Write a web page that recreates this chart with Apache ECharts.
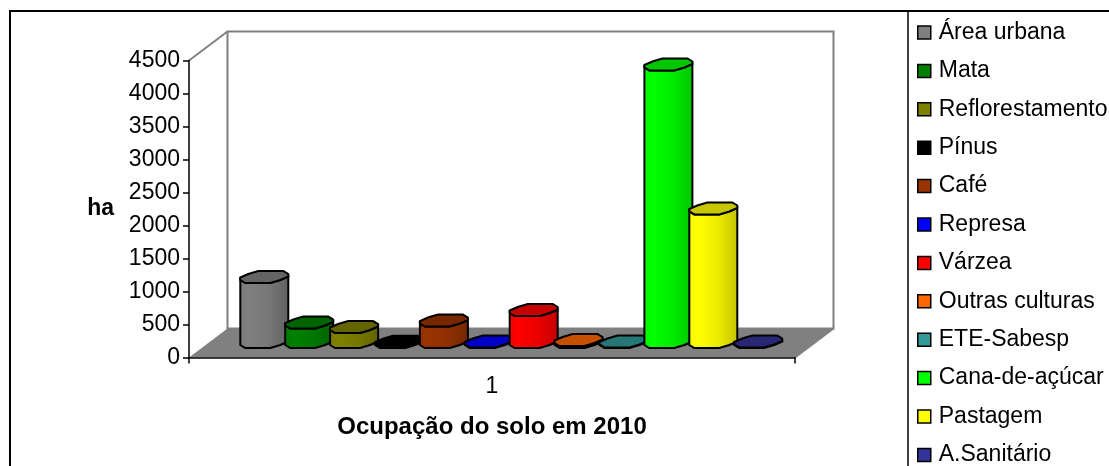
<!DOCTYPE html>
<html>
<head>
<meta charset="utf-8">
<style>html,body{margin:0;padding:0;background:#fff}#chart{width:1109px;height:466px}</style>
<script src="https://cdn.jsdelivr.net/npm/echarts@6/dist/echarts.min.js"></script>
</head>
<body>
<div id="chart"></div>
<script>
const categories = ['1'];
const names = ['Área urbana', 'Mata', 'Reflorestamento', 'Pínus', 'Café', 'Represa', 'Várzea', 'Outras culturas', 'ETE-Sabesp', 'Cana-de-açúcar', 'Pastagem', 'A.Sanitário'];
const values = [985, 295, 227, 5, 325, 8, 485, 30, 8, 4205, 2023, 8];
const colors = ['#808080', '#008000', '#808000', '#000000', '#993300', '#0000ff', '#ff0000', '#ff6600', '#339999', '#00ff00', '#ffff00', '#333399'];
const yTicks = [0, 4500, 500];

const font = '"Liberation Sans", Arial, sans-serif';
// shift of the 3D box back wall against the front plane
const depthX = 38.5, depthY = 29;
const barStep = 44.9;
// sheared section of the column, relative to its centre
const section = [[-6, -6], [19, -6], [24, -3], [24, -0.5], [16, 3], [6, 6], [-19, 6], [-24, 3], [-24, 0.5], [-16, -3]];
const frontEdge = [8, 7, 6, 5, 4, 3];

function shade(hex, k) {
    const n = parseInt(hex.slice(1), 16);
    const c = [n >> 16, (n >> 8) & 255, n & 255].map(v => Math.round(v * k));
    return 'rgb(' + c.join(',') + ')';
}

function renderBox(params, api) {
    const o = api.coord([0, yTicks[0]]);
    const t = api.coord([0, yTicks[1]]);
    const x0 = params.coordSys.x, x1 = x0 + params.coordSys.width;
    const gray = '#808080';
    const line = (a, b, c, d, col) => ({
        type: 'line', shape: { x1: a, y1: b, x2: c, y2: d },
        style: { stroke: col || gray, lineWidth: 2 }
    });
    return {
        type: 'group',
        children: [
            { type: 'polygon', shape: { points: [[x0 + depthX, t[1] - depthY], [x1 + depthX, t[1] - depthY], [x1 + depthX, o[1] - depthY], [x0 + depthX, o[1] - depthY]] }, style: { fill: '#fff', stroke: gray, lineWidth: 2 } },
            { type: 'polygon', shape: { points: [[x0, o[1]], [x0 + depthX, o[1] - depthY], [x1 + depthX, o[1] - depthY], [x1, o[1]]] }, style: { fill: gray } },
            line(x0, t[1], x0 + depthX, t[1] - depthY),
            line(x1, o[1], x1 + depthX, o[1] - depthY)
        ]
    };
}

function renderColumn(i) {
    return function (params, api) {
        const c = api.coord([0, api.value(1)]);
        const base = api.coord([0, 0]);
        const cx = c[0] + (i - 5.5) * barStep + depthX / 2;
        const topY = c[1] - 15.5, baseY = base[1] - 15.5;
        const color = colors[i];
        const top = section.map(p => [cx + p[0], topY + p[1]]);
        const front = frontEdge.map(k => section[k]);
        const body = front.map(p => [cx + p[0], topY + p[1]])
            .concat(front.slice().reverse().map(p => [cx + p[0], baseY + p[1]]));
        return {
            type: 'group',
            children: [
                {
                    type: 'polygon', shape: { points: body },
                    style: {
                        fill: {
                            type: 'linear', x: 0, y: 0, x2: 1, y2: 0,
                            colorStops: [
                                { offset: 0, color: shade(color, 0.96) },
                                { offset: 0.2, color: color },
                                { offset: 0.6, color: shade(color, 0.92) },
                                { offset: 1, color: shade(color, 0.76) }
                            ]
                        },
                        stroke: '#000', lineWidth: 2
                    }
                },
                { type: 'polygon', shape: { points: top }, style: { fill: shade(color, 0.78), stroke: '#000', lineWidth: 2 } }
            ]
        };
    };
}

const chart = echarts.init(document.getElementById('chart'), null, { renderer: 'canvas' });

const series = [{
    type: 'custom', name: 'box', silent: true, clip: false, z: 1,
    data: [[0, 0]], renderItem: renderBox
}];
names.forEach((name, i) => {
    series.push({
        type: 'custom', name: name, clip: false, z: 2,
        itemStyle: { color: colors[i] },
        encode: { x: 0, y: 1 },
        data: [[0, values[i]]],
        renderItem: renderColumn(i)
    });
});

chart.setOption({
    animation: false,
    textStyle: { fontFamily: font, color: '#000' },
    grid: { left: 189, top: 60.5, width: 606, height: 297 },
    xAxis: {
        type: 'category', data: categories, z: 10,
        name: 'Ocupação do solo em 2010', nameLocation: 'middle', nameGap: 58,
        nameTextStyle: { fontFamily: font, fontSize: 24, fontWeight: 'bold', color: '#000' },
        axisLine: { show: true, lineStyle: { color: '#000', width: 1.5 } },
        axisTick: { show: true, interval: 0, length: 6, lineStyle: { color: '#000', width: 1.5 } },
        axisLabel: { fontFamily: font, fontSize: 23, color: '#000', margin: 18 }
    },
    yAxis: {
        type: 'value', min: yTicks[0], max: yTicks[1], interval: yTicks[2], z: 10,
        name: 'ha', nameLocation: 'middle', nameRotate: 0, nameGap: 75,
        nameTextStyle: { fontFamily: font, fontSize: 23, fontWeight: 'bold', color: '#000', padding: [7, 0, 0, 0] },
        splitLine: { show: false },
        axisLine: { show: true, lineStyle: { color: '#000', width: 1.5 } },
        axisTick: { show: true, length: 6, lineStyle: { color: '#000', width: 1.5 } },
        axisLabel: { fontFamily: font, fontSize: 23, color: '#000', margin: 9, padding: [2, 0, 0, 0], formatter: v => String(v) }
    },
    legend: {
        orient: 'vertical', left: 917, top: 21, padding: 0, height: 600,
        data: names, icon: 'rect', itemWidth: 13, itemHeight: 13, itemGap: 15.4,
        selectedMode: false,
        itemStyle: { borderColor: '#000', borderWidth: 1.5 },
        textStyle: { fontFamily: font, fontSize: 23, color: '#000', padding: [0, 0, 0, 3] }
    },
    graphic: [
        { type: 'rect', silent: true, shape: { x: 10, y: 11, width: 1300, height: 700 }, style: { fill: 'none', stroke: '#000', lineWidth: 2 } },
        { type: 'line', silent: true, shape: { x1: 908, y1: 11, x2: 908, y2: 466 }, style: { stroke: '#000', lineWidth: 1.5 } }
    ],
    series: series
});
</script>
</body>
</html>
